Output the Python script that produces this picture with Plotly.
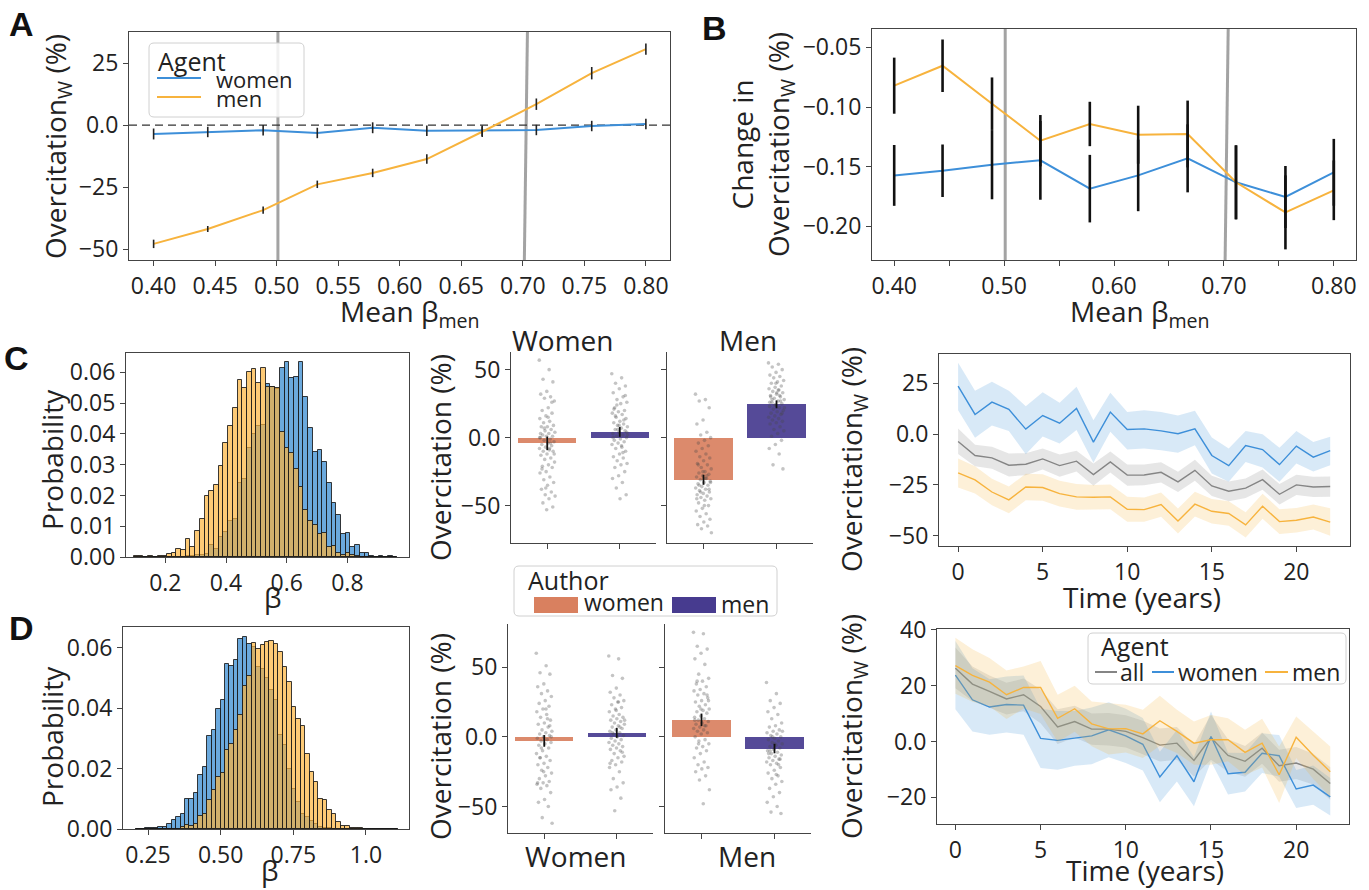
import plotly.graph_objects as go

# ---------------- data ----------------
beta_men = [0.400, 0.444, 0.489, 0.533, 0.578, 0.622, 0.667, 0.711, 0.756, 0.800]
a_women = [-3.6, -2.8, -2.1, -3.2, -1.1, -2.3, -2.3, -2.0, -0.4, 0.4]
a_women_err = [2.2, 2.1, 2.1, 2.1, 2.2, 2.1, 2.1, 2.1, 2.1, 2.1]
a_men = [-47.9, -41.9, -34.3, -23.9, -19.3, -13.7, -2.7, 8.4, 20.9, 30.6]
a_men_err = [1.7, 1.2, 1.5, 1.5, 1.7, 1.9, 2.1, 2.3, 2.5, 2.3]
ref_betas = [0.501, 0.7025]

b_women = [-0.1573, -0.1534, -0.1483, -0.1447, -0.1684, -0.1573, -0.1430, -0.1631, -0.1754, -0.1547]
b_women_err = [0.0255, 0.022, 0.029, 0.033, 0.0283, 0.030, 0.0285, 0.031, 0.026, 0.028]
b_men = [-0.0821, -0.0654, -0.0972, -0.1282, -0.1142, -0.1232, -0.1226, -0.1631, -0.1883, -0.1698]
b_men_err = [0.0235, 0.022, 0.022, 0.0215, 0.0186, 0.0243, 0.028, 0.031, 0.031, 0.025]

c_bin_start, c_bin_width = 0.097, 0.0155
c_hist_women = [0, 0, 0, 0, 0, 0, 0, 0, 0, 0, 0.0001, 0.0002, 0.0003, 0.0005, 0.0006, 0.0009,
                0.0038, 0.0025, 0.0065, 0.0081, 0.0117, 0.0125, 0.0241, 0.0255, 0.0353, 0.0401,
                0.0425, 0.0430, 0.0561, 0.0553, 0.0545, 0.0613, 0.0633, 0.0583, 0.0586, 0.0633,
                0.0521, 0.0418, 0.0340, 0.0347, 0.0309, 0.0241, 0.0174, 0.0138, 0.0074, 0.0079,
                0.0031, 0.0040, 0.0013, 0.0013, 0.0004, 0.0001, 0.0004, 0.0001, 0.0003, 0]
c_hist_men = [0.0002, 0.0002, 0.0001, 0.0002, 0.0001, 0.0003, 0.0003, 0.0009, 0.0014, 0.0027,
              0.0022, 0.0059, 0.0033, 0.0085, 0.0122, 0.0199, 0.0213, 0.0233, 0.0296, 0.0369,
              0.0425, 0.0483, 0.0574, 0.0548, 0.0600, 0.0610, 0.0566, 0.0615, 0.0551, 0.0553,
              0.0548, 0.0405, 0.0353, 0.0339, 0.0285, 0.0226, 0.0152, 0.0117, 0.0104, 0.0076,
              0.0077, 0.0034, 0.0037, 0.0014, 0.0007, 0.0013, 0.0005, 0.0002, 0.0001, 0.0001,
              0, 0, 0, 0, 0, 0]

d_bin_start, d_bin_width = 0.209, 0.0153
d_hist_women = [0.0001, 0.0001, 0.0002, 0.0002, 0.0004, 0.0007, 0.0007, 0.0015, 0.0031, 0.0040,
                0.0049, 0.0101, 0.0101, 0.0120, 0.0178, 0.0206, 0.0309, 0.0329, 0.0397, 0.0427,
                0.0548, 0.0540, 0.0559, 0.0628, 0.0636, 0.0612, 0.0603, 0.0537, 0.0530, 0.0499,
                0.0462, 0.0427, 0.0311, 0.0277, 0.0200, 0.0134, 0.0090, 0.0051, 0.0040, 0.0025,
                0.0015, 0.0008, 0.0004, 0.0002, 0.0001, 0, 0, 0, 0, 0, 0, 0, 0, 0, 0, 0, 0, 0, 0]
d_hist_men = [0, 0, 0, 0, 0, 0, 0, 0, 0, 0,
              0.0005, 0.0012, 0.0011, 0.0018, 0.0042, 0.0051, 0.0097, 0.0128, 0.0172, 0.0184,
              0.0261, 0.0281, 0.0327, 0.0377, 0.0473, 0.0506, 0.0617, 0.0595, 0.0611, 0.0620,
              0.0623, 0.0612, 0.0587, 0.0537, 0.0487, 0.0404, 0.0365, 0.0340, 0.0250, 0.0189,
              0.0156, 0.0101, 0.0095, 0.0062, 0.0051, 0.0023, 0.0009, 0.0009, 0.0004, 0.0003,
              0.0002, 0.0001, 0.0001, 0.0001, 0.0001, 0.0001, 0, 0, 0]

author_groups = ["women", "men"]
c_bar_women_sub = [-4.2, 4.2]
c_bar_women_sub_err = [5.0, 3.6]
c_bar_men_sub = [-31.0, 24.5]
c_bar_men_sub_err = [3.7, 2.9]
d_bar_women_sub = [-2.9, 2.9]
d_bar_women_sub_err = [4.2, 3.6]
d_bar_men_sub = [12.2, -8.4]
d_bar_men_sub_err = [4.5, 3.4]

c_pts_ws_w = [57, 50, 43, 41, 34, 32, 30, 29, 27, 22, 20, 18, 16, 14, 12, 11, 9, 8, 8, 6, 5, 4, 3, 2, 1, 1, 0,
              -1, -2, -3, -4, -5, -6, -7, -8, -9, -10, -10, -12, -13, -15, -16, -18, -20, -21, -22, -25,
              -26, -29, -31, -33, -35, -38, -40, -42, -43, -45, -48, -51, -53, 3, -4, 7, -12, 15, -23,
              26, -37, 0, -8]
c_pts_ws_m = [47, 44, 40, 38, 36, 33, 30, 28, 26, 25, 22, 20, 19, 18, 17, 15, 14, 12, 11, 10, 9, 8, 7, 6, 5,
              4, 3, 2, 1, 0, -1, -2, -3, -4, -5, -7, -8, -10, -12, -14, -15, -17, -19, -20, -22, -25, -28,
              -30, -33, -37, -42, -45, 21, 13, 6, 2, -6, 16, 31, 9, 0, -11, 24, 4]
c_pts_ms_w = [32, 28, 27, 22, 13, 10, 4, 2, 0, -2, -4, -6, -8, -10, -12, -14, -15, -17, -19, -20, -22, -23,
              -25, -26, -27, -28, -29, -30, -31, -32, -33, -34, -35, -36, -37, -38, -39, -40, -41, -42,
              -43, -44, -45, -46, -48, -50, -52, -54, -56, -58, -60, -62, -64, -65, -67, -70, -30, -35,
              -38, -25, -45, -28, -40, -33, -50, -20]
c_pts_ms_m = [55, 54, 52, 50, 48, 46, 45, 44, 42, 41, 40, 38, 37, 36, 35, 34, 33, 32, 31, 30, 29, 28, 27,
              26, 25, 24, 23, 22, 21, 20, 19, 18, 17, 16, 15, 14, 13, 12, 11, 10, 8, 6, 5, 3, 1, -2, -5,
              -8, -12, -20, -23, 33, 30, 27, 24, 22, 35, 28, 18, 40, 26, 31]
d_pts_ws_w = [60, 51, 46, 45, 38, 36, 33, 31, 29, 26, 24, 22, 20, 18, 16, 14, 12, 10, 9, 7, 5, 4, 3, 2, 1,
              0, -1, -2, -3, -4, -5, -6, -8, -10, -12, -14, -15, -17, -19, -20, -22, -24, -26, -28, -30,
              -32, -33, -34, -35, -37, -40, -45, -47, -50, -58, -62, 20, -15, 8, -25, -33, 13, -8, 0]
d_pts_ws_m = [58, 56, 44, 42, 35, 32, 30, 28, 26, 25, 23, 21, 20, 18, 16, 15, 14, 13, 12, 11, 10, 9, 8, 7,
              6, 5, 4, 3, 2, 1, 0, -1, -2, -3, -4, -5, -6, -7, -8, -9, -10, -12, -14, -15, -17, -18, -20,
              -22, -25, -30, -33, -36, -38, -44, -53, 12, 25, 3, -11, 19, -19, 7]
d_pts_ms_w = [75, 74, 65, 63, 60, 56, 52, 45, 42, 40, 38, 36, 34, 33, 31, 30, 28, 26, 25, 23, 22, 20, 19,
              18, 17, 15, 14, 13, 12, 11, 10, 9, 8, 7, 6, 5, 4, 3, 2, 0, -2, -3, -5, -7, -8, -10, -12,
              -15, -18, -20, -22, -23, -25, -28, -31, -38, -48, 40, 30, 20, 12, 8, -5, 26]
d_pts_ms_m = [39, 31, 26, 24, 21, 18, 16, 13, 10, 8, 7, 5, 4, 3, 2, 1, 0, -1, -2, -3, -4, -5, -6, -7, -8,
              -9, -10, -11, -12, -13, -14, -15, -16, -17, -18, -19, -20, -22, -24, -26, -28, -30, -32,
              -34, -37, -40, -43, -47, -50, -54, -55, -5, -12, -20, 0, 4, -27, -10, -16]

years = list(range(0, 23))
c_all = [-3.6, -10.5, -11.7, -15.3, -14.8, -12.2, -15.5, -13.3, -19.9, -13.7, -20.2, -20.1, -18.8, -23.5,
         -17.8, -25.5, -28.1, -26.6, -22.4, -29.6, -25.0, -26.0, -25.8]
c_all_hi = [2.8, -5.2, -6.2, -9.5, -9.4, -7.0, -10.0, -8.2, -14.5, -8.5, -15.0, -15.0, -13.8, -18.5, -12.6,
            -20.5, -23.3, -21.8, -17.4, -24.6, -20.0, -21.0, -20.8]
c_all_lo = [-9.8, -15.8, -17.0, -20.8, -20.2, -17.4, -21.0, -18.4, -25.4, -18.9, -25.4, -25.2, -23.8, -28.5,
            -23.0, -30.5, -33.0, -31.4, -27.4, -34.6, -30.0, -31.0, -30.8]
c_women = [23.7, 9.7, 15.8, 12.2, 2.5, 9.2, 5.4, 12.7, -3.9, 10.9, 2.3, 2.6, 1.6, 0.2, 2.6, -10.5, -15.5,
           -5.6, -7.6, -15.0, -5.9, -11.3, -8.1]
c_women_hi = [35.2, 21.4, 25.8, 21.4, 13.8, 20.7, 15.5, 23.4, 6.9, 20.4, 10.9, 11.8, 10.9, 9.2, 11.5, -1.6,
              -7.1, 1.6, 0.0, -6.7, 1.6, -3.9, -1.3]
c_women_lo = [11.8, -1.8, 4.3, 1.6, -9.9, -1.2, -4.6, 2.0, -14.1, 1.2, -7.6, -7.1, -7.9, -9.2, -5.4, -19.4,
              -23.5, -13.7, -16.4, -23.5, -14.5, -18.4, -15.3]
c_men = [-19.1, -22.5, -28.5, -32.4, -26.0, -26.3, -29.3, -30.9, -31.1, -30.9, -37.0, -37.2, -34.7, -42.8,
         -34.5, -38.0, -39.1, -44.7, -35.5, -43.1, -42.4, -40.8, -43.3]
c_men_hi = [-12.0, -15.8, -22.0, -25.8, -19.5, -19.8, -23.0, -24.6, -25.0, -24.8, -30.8, -31.2, -28.7, -36.6,
            -28.4, -32.0, -33.1, -38.5, -29.3, -37.0, -36.4, -34.6, -36.5]
c_men_lo = [-26.3, -29.2, -35.0, -39.0, -32.5, -32.8, -35.6, -37.2, -37.2, -37.0, -43.2, -43.2, -40.7, -49.0,
            -40.6, -44.0, -45.1, -50.9, -41.7, -49.2, -48.4, -47.0, -50.1]

d_all = [26.2, 20.5, 17.9, 15.2, 16.7, 12.5, 5.2, 7.1, 4.4, 4.4, 3.6, 1.4, -1.3, -0.6, -6.8, 1.4, -5.0,
         -7.1, -2.4, -8.7, -7.7, -9.9, -15.0]
d_all_hi = [33.6, 26.8, 23.6, 21.0, 22.5, 18.6, 11.5, 12.8, 10.0, 10.2, 9.4, 7.4, 4.6, 5.2, -1.0, 9.5, 0.8,
            -1.6, 3.2, -3.0, -2.0, -4.4, -9.2]
d_all_lo = [19.0, 14.5, 12.0, 9.6, 10.8, 6.5, -0.9, 1.4, -1.2, -1.4, -2.2, -4.6, -7.2, -6.5, -12.6, -6.5,
            -10.8, -12.6, -8.0, -14.4, -13.4, -15.4, -20.8]
d_women = [23.7, 14.9, 12.3, 13.2, 13.0, 1.1, 0.4, 1.1, 2.0, 4.2, 2.0, -1.0, -12.7, -5.1, -14.4, 1.8, -11.5,
           -11.0, -4.2, -5.1, -17.0, -15.6, -19.8]
d_women_hi = [35.9, 26.2, 22.2, 23.2, 23.6, 11.7, 10.9, 10.9, 12.1, 14.0, 11.7, 8.4, -3.7, 4.1, -5.6, 10.7,
              -4.0, -4.1, 2.9, 2.3, -10.2, -8.6, -13.1]
d_women_lo = [11.5, 3.6, 2.4, 3.2, 2.4, -9.5, -10.1, -8.7, -8.1, -5.6, -7.7, -10.4, -21.7, -14.3, -23.2,
              -7.1, -19.0, -17.9, -11.3, -12.5, -23.8, -22.6, -26.5]
d_men = [27.1, 23.6, 21.2, 16.7, 19.3, 19.3, 8.3, 11.7, 6.3, 4.5, 4.6, 2.7, 7.4, 3.6, -0.6, 0.6, 0.6, -3.9,
         -0.6, -11.9, 1.5, -4.9, -10.8]
d_men_hi = [37.1, 33.0, 29.8, 25.4, 26.8, 28.8, 16.7, 19.9, 14.3, 13.7, 13.1, 11.3, 16.3, 11.3, 7.1, 9.5,
            8.3, 4.2, 8.1, -1.8, 8.9, 3.6, -1.8]
d_men_lo = [17.1, 14.2, 12.6, 8.0, 11.8, 9.8, -0.1, 3.5, -1.7, -4.7, -3.9, -5.9, -1.5, -4.1, -8.3, -8.3,
            -7.1, -12.0, -9.3, -22.0, -5.9, -13.4, -19.8]

# ---------------- styling ----------------
W, H = 1369, 890
FONT = "Open Sans"
BLUE = "#3d8fd9"
ORANGE = "#f7b33d"
GRAY = "#858585"
AUTH_W = "#d9805f"
AUTH_M = "#473b8f"
AXC = "#444444"
TICK = 23
TITLE = 28


def X(px):
    return px / W


def Y(py):
    return 1 - py / H


fig = go.Figure()
layout = {}
annotations = []
shapes = []


def axis_name(n, k):
    return (k + "axis") if n == 1 else f"{k}axis{n}"


def ref(n, k):
    return k if n == 1 else f"{k}{n}"


def add_axes(n, l, r, t, b, xr, yr, xt, yt, boxed=True, xminor=None):
    base = dict(showline=True, linecolor=AXC, linewidth=1.2, mirror=boxed, ticks="outside", ticklen=5,
                tickwidth=1.2, tickcolor=AXC, showgrid=False, zeroline=False, automargin=False,
                tickfont=dict(family=FONT, size=TICK, color="#222"))
    xa = dict(base, domain=[X(l), X(r)], range=xr, anchor=ref(n, "y"), tickmode="array", tickvals=xt[0])
    if xt[1] is None:
        xa["showticklabels"] = False
    else:
        xa["ticktext"] = xt[1]
    if xminor is not None:
        xa["minor"] = dict(ticks="outside", tickmode="array", tickvals=xminor, ticklen=5, tickwidth=1.2,
                           tickcolor=AXC, showgrid=False)
    ya = dict(base, domain=[Y(b), Y(t)], range=yr, anchor=ref(n, "x"), tickmode="array", tickvals=yt[0])
    if yt[1] is None:
        ya["showticklabels"] = False
    else:
        ya["ticktext"] = yt[1]
    layout[axis_name(n, "x")] = xa
    layout[axis_name(n, "y")] = ya


def text(x, y, s, size=TITLE, angle=0, xanchor="center", family=FONT):
    annotations.append(dict(x=X(x), y=Y(y), xref="paper", yref="paper", text=s, showarrow=False,
                            textangle=angle, xanchor=xanchor, yanchor="middle",
                            font=dict(family=family, size=size, color="#222")))


def rrect(x0, y0, x1, y1, r=5):
    pts = [f"M {X(x0 + r)},{Y(y0)}", f"L {X(x1 - r)},{Y(y0)}", f"Q {X(x1)},{Y(y0)} {X(x1)},{Y(y0 + r)}",
           f"L {X(x1)},{Y(y1 - r)}", f"Q {X(x1)},{Y(y1)} {X(x1 - r)},{Y(y1)}", f"L {X(x0 + r)},{Y(y1)}",
           f"Q {X(x0)},{Y(y1)} {X(x0)},{Y(y1 - r)}", f"L {X(x0)},{Y(y0 + r)}",
           f"Q {X(x0)},{Y(y0)} {X(x0 + r)},{Y(y0)}", "Z"]
    shapes.append(dict(type="path", path=" ".join(pts), xref="paper", yref="paper",
                       line=dict(color="#d0d0d0", width=1), fillcolor="rgba(255,255,255,0.85)", layer="above"))


def swatch_line(x0, x1, y, color):
    shapes.append(dict(type="line", xref="paper", yref="paper", x0=X(x0), x1=X(x1), y0=Y(y), y1=Y(y),
                       line=dict(color=color, width=2), layer="above"))


def swatch_rect(x0, x1, y0, y1, color):
    shapes.append(dict(type="rect", xref="paper", yref="paper", x0=X(x0), x1=X(x1), y0=Y(y1), y1=Y(y0),
                       line=dict(width=0), fillcolor=color, layer="above"))


# ---------------- Panel A ----------------
add_axes(1, 129, 670, 32, 260, [0.380, 0.8196], [-54.4, 37.5],
         ([0.40 + 0.05 * i for i in range(9)], [f"{0.40 + 0.05 * i:.2f}" for i in range(9)]),
         ([-50, -25, 0, 25], ["\u221250", "\u221225", "0.0", "25"]))
for xv in ref_betas:
    tilt = 0.0025 if xv > 0.6 else 0.0
    shapes.append(dict(type="line", xref="x", yref="y domain", x0=xv - tilt / 2, x1=xv + tilt / 2, y0=0, y1=1,
                       line=dict(color="#a3a3a3", width=3), layer="below"))
shapes.append(dict(type="line", xref="x domain", yref="y", x0=0, x1=1, y0=0, y1=0,
                   line=dict(color="#333", width=1.3, dash="8px,5px"), layer="below"))
for vals, col in [(a_women, BLUE), (a_men, ORANGE)]:
    fig.add_trace(go.Scatter(x=beta_men, y=vals, mode="lines", line=dict(color=col, width=2),
                             xaxis="x", yaxis="y"))
for vals, errs in [(a_women, a_women_err), (a_men, a_men_err)]:
    fig.add_trace(go.Scatter(x=beta_men, y=vals, mode="markers", marker=dict(size=1, opacity=0),
                             error_y=dict(type="data", array=errs, width=0, thickness=1.6, color="#222"),
                             xaxis="x", yaxis="y"))

# ---------------- Panel B ----------------
add_axes(2, 872, 1356, 29, 260, [0.3798, 0.8202], [-0.2282, -0.0346],
         ([0.40, 0.50, 0.60, 0.70, 0.80], ["0.40", "0.50", "0.60", "0.70", "0.80"]),
         ([-0.20, -0.15, -0.10, -0.05], ["\u22120.20", "\u22120.15", "\u22120.10", "\u22120.05"]),
         xminor=[0.45, 0.55, 0.65, 0.75])
for xv in ref_betas:
    tilt = 0.0028 if xv > 0.6 else 0.0
    shapes.append(dict(type="line", xref="x2", yref="y2 domain", x0=xv - tilt / 2, x1=xv + tilt / 2, y0=0, y1=1,
                       line=dict(color="#a3a3a3", width=3), layer="below"))
for vals, col in [(b_women, BLUE), (b_men, ORANGE)]:
    fig.add_trace(go.Scatter(x=beta_men, y=vals, mode="lines", line=dict(color=col, width=2),
                             xaxis="x2", yaxis="y2"))
for vals, errs in [(b_women, b_women_err), (b_men, b_men_err)]:
    fig.add_trace(go.Scatter(x=beta_men, y=vals, mode="markers", marker=dict(size=1, opacity=0),
                             error_y=dict(type="data", array=errs, width=0, thickness=2.6, color="#111"),
                             xaxis="x2", yaxis="y2"))

# ---------------- Histograms (C, D) ----------------
HB = "rgba(58,140,210,0.75)"
HO = "rgba(252,180,60,0.70)"
EDGE = dict(color="rgba(25,25,25,0.85)", width=1)


def hist(n, start, width, women, men):
    cw = [start + width * (i + 0.5) for i in range(len(women))]
    cm = [start + width * (i + 0.5) for i in range(len(men))]
    fig.add_trace(go.Bar(x=cw, y=women, width=width, marker=dict(color=HB, line=EDGE),
                         xaxis=ref(n, "x"), yaxis=ref(n, "y")))
    fig.add_trace(go.Bar(x=cm, y=men, width=width, marker=dict(color=HO, line=EDGE),
                         xaxis=ref(n, "x"), yaxis=ref(n, "y")))


add_axes(3, 126, 409, 353, 557, [0.0705, 1.003], [0, 0.0663],
         ([0.2, 0.4, 0.6, 0.8], ["0.2", "0.4", "0.6", "0.8"]),
         ([0.01 * i for i in range(7)], [f"{0.01 * i:.2f}" for i in range(7)]))
hist(3, c_bin_start, c_bin_width, c_hist_women, c_hist_men)

add_axes(7, 123, 409, 627, 829, [0.164, 1.148], [0, 0.0669],
         ([0.25, 0.50, 0.75, 1.0], ["0.25", "0.50", "0.75", "1.0"]),
         ([0, 0.02, 0.04, 0.06], ["0.00", "0.02", "0.04", "0.06"]))
hist(7, d_bin_start, d_bin_width, d_hist_women, d_hist_men)


# ---------------- Strip + bar panels ----------------
def jitter(vals, center):
    return [center + (((i * 0.6180339887) % 1.0) - 0.5) * 0.22 for i in range(len(vals))]


def strip_panel(n, l, r, t, b, yr, bars, errs, pts_w, pts_m, show_labels):
    yt = ([-50, 0, 50], ["\u221250", "0.0", "50"] if show_labels else None)
    add_axes(n, l, r, t, b, [-0.5, 1.5], yr, ([0, 1], None), yt, boxed=False)
    xa, ya = ref(n, "x"), ref(n, "y")
    for i, col in enumerate([AUTH_W, AUTH_M]):
        fig.add_trace(go.Bar(x=[i], y=[bars[i]], width=0.8,
                             marker=dict(color=col, opacity=0.92, line=dict(width=0)), xaxis=xa, yaxis=ya))
    for i, pts in enumerate([pts_w, pts_m]):
        fig.add_trace(go.Scatter(x=jitter(pts, i), y=pts, mode="markers",
                                 marker=dict(size=3.6, color="rgba(70,70,70,0.32)", line=dict(width=0)),
                                 xaxis=xa, yaxis=ya))
    fig.add_trace(go.Scatter(x=[0, 1], y=bars, mode="markers", marker=dict(size=1, opacity=0),
                             error_y=dict(type="data", array=errs, width=0, thickness=1.8, color="#111"),
                             xaxis=xa, yaxis=ya))


strip_panel(4, 511, 656, 352, 543, [-77.5, 63], c_bar_women_sub, c_bar_women_sub_err, c_pts_ws_w, c_pts_ws_m, True)
strip_panel(5, 667, 813, 352, 543, [-77.5, 63], c_bar_men_sub, c_bar_men_sub_err, c_pts_ms_w, c_pts_ms_m, False)
strip_panel(8, 508, 653, 624, 833, [-69, 81], d_bar_women_sub, d_bar_women_sub_err, d_pts_ws_w, d_pts_ws_m, True)
strip_panel(9, 665, 811, 624, 833, [-69, 81], d_bar_men_sub, d_bar_men_sub_err, d_pts_ms_w, d_pts_ms_m, False)


# ---------------- Time series (C, D) ----------------
def band_line(n, mid, lo, hi, col, fill):
    xa, ya = ref(n, "x"), ref(n, "y")
    fig.add_trace(go.Scatter(x=years + years[::-1], y=hi + lo[::-1], fill="toself", fillcolor=fill,
                             line=dict(width=0), mode="lines", xaxis=xa, yaxis=ya))
    fig.add_trace(go.Scatter(x=years, y=mid, mode="lines", line=dict(color=col, width=1.4), xaxis=xa, yaxis=ya))


FB = "rgba(61,143,217,0.2)"
FG = "rgba(128,128,128,0.2)"
FO = "rgba(247,179,61,0.2)"

add_axes(6, 939, 1350, 354, 546, [-1.13, 23.17], [-55.1, 39.5],
         ([0, 5, 10, 15, 20], ["0", "5", "10", "15", "20"]),
         ([-50, -25, 0, 25], ["\u221250", "\u221225", "0.0", "25"]))
band_line(6, c_all, c_all_lo, c_all_hi, GRAY, FG)
band_line(6, c_women, c_women_lo, c_women_hi, BLUE, FB)
band_line(6, c_men, c_men_lo, c_men_hi, ORANGE, FO)

add_axes(10, 937, 1349, 629, 824, [-1.08, 23.1], [-29.5, 40.2],
         ([0, 5, 10, 15, 20], ["0", "5", "10", "15", "20"]),
         ([-20, 0, 20, 40], ["\u221220", "0.0", "20", "40"]))
band_line(10, d_all, d_all_lo, d_all_hi, GRAY, FG)
band_line(10, d_women, d_women_lo, d_women_hi, BLUE, FB)
band_line(10, d_men, d_men_lo, d_men_hi, ORANGE, FO)

# ---------------- Texts ----------------
LET = "Liberation Sans"
for s, x, y in [("A", 22, 24), ("B", 714, 28), ("C", 16, 358), ("D", 22, 628)]:
    annotations.append(dict(x=X(x), y=Y(y), xref="paper", yref="paper", text=f"<b>{s}</b>", showarrow=False,
                            xanchor="center", yanchor="middle", font=dict(family=LET, size=34, color="#111")))

text(57, 147, "Overcitation<sub>W</sub> (%)", angle=-90)
text(410, 313, "Mean \u03b2<sub>men</sub>")
text(762, 145, "Change in<br>Overcitation<sub>W</sub> (%)", angle=-90)
text(1140, 313, "Mean \u03b2<sub>men</sub>")
text(52, 460, "Probability", angle=-90)
text(273, 597, "\u03b2")
text(52, 737, "Probability", angle=-90)
text(270, 870, "\u03b2")
text(440, 458, "Overcitation (%)", angle=-90)
text(440, 737, "Overcitation (%)", angle=-90)
text(563, 340, "Women")
text(748, 340, "Men")
text(576, 856, "Women")
text(747, 856, "Men")
text(853, 460, "Overcitation<sub>W</sub> (%)", angle=-90)
text(1142, 597, "Time (years)")
text(853, 727, "Overcitation<sub>W</sub> (%)", angle=-90)
text(1145, 870, "Time (years)")

# Legend A (Agent)
rrect(149, 43, 304, 117)
text(156, 61, "Agent", size=25, xanchor="left")
swatch_line(157, 201, 78, BLUE)
text(214, 79, "women", size=22, xanchor="left")
swatch_line(157, 201, 97, ORANGE)
text(214, 98, "men", size=22, xanchor="left")

# Legend Author
rrect(514, 566, 777, 616)
text(526, 580, "Author", size=25, xanchor="left")
swatch_rect(534, 578, 597, 613, AUTH_W)
text(582, 602, "women", size=23, xanchor="left")
swatch_rect(672, 716, 597, 613, AUTH_M)
text(719, 604, "men", size=23, xanchor="left")

# Legend D (Agent)
rrect(1088, 633, 1346, 684)
text(1099, 646, "Agent", size=25, xanchor="left")
swatch_line(1095, 1117, 672, GRAY)
text(1118, 672, "all", size=23, xanchor="left")
swatch_line(1152, 1174, 672, BLUE)
text(1176, 672, "women", size=23, xanchor="left")
swatch_line(1265, 1288, 672, ORANGE)
text(1290, 672, "men", size=23, xanchor="left")

fig.update_layout(width=W, height=H, margin=dict(l=0, r=0, t=0, b=0, pad=0, autoexpand=False),
                  paper_bgcolor="white", plot_bgcolor="white", showlegend=False, barmode="overlay", bargap=0,
                  annotations=annotations, shapes=shapes, font=dict(family=FONT, color="#222"),
                  **layout)
pin_js = ("document.body.style.margin='0';document.body.style.overflow='hidden';"
          "var d=document.getElementById('{plot_id}');"
          "d.style.position='fixed';d.style.top='0px';d.style.left='0px';")
fig.write_html("out.html", include_plotlyjs=True, config={"displayModeBar": False}, post_script=pin_js)
